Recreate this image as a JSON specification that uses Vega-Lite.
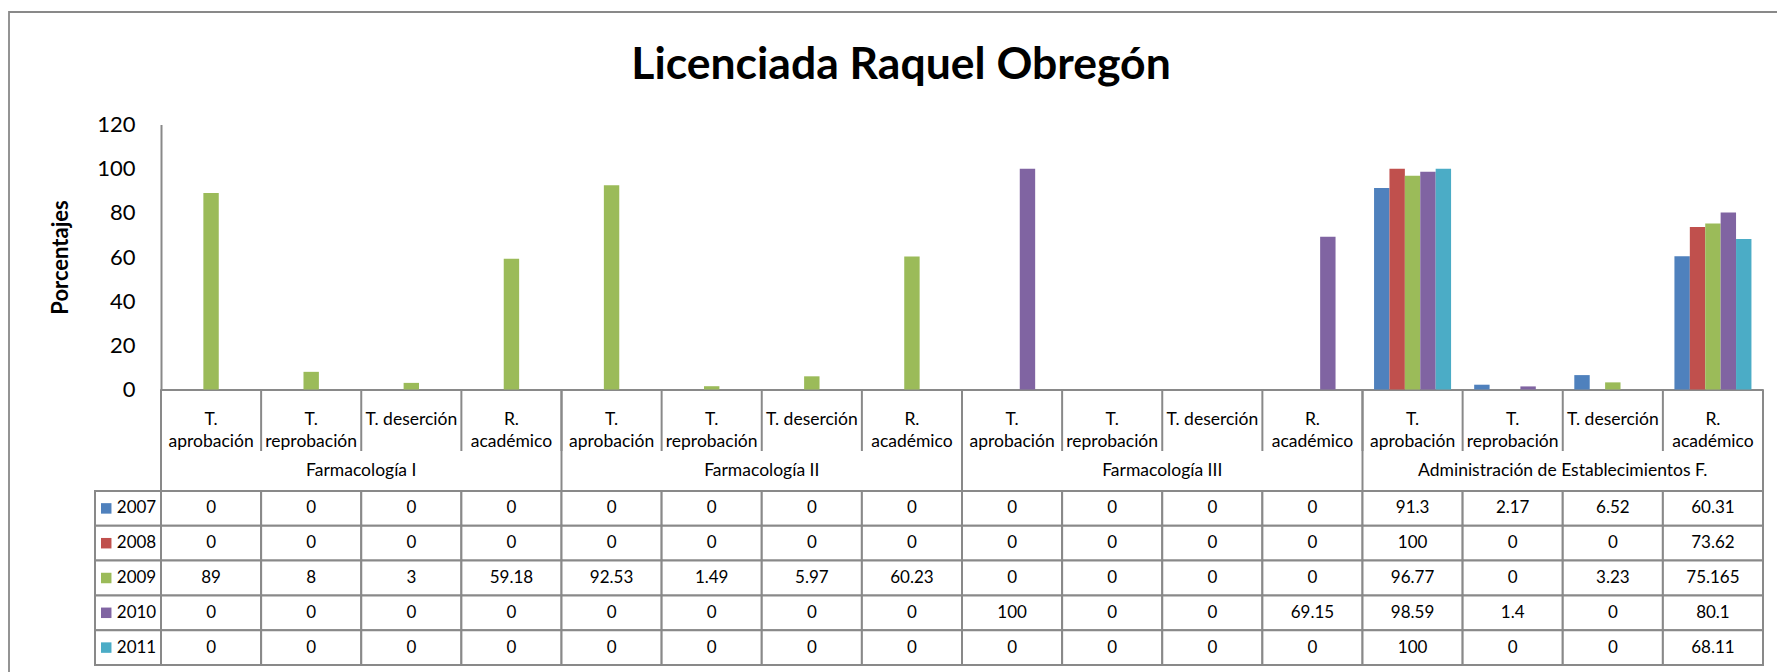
{
  "$schema": "https://vega.github.io/schema/vega-lite/v6.json",
  "autosize": {"type": "none"},
  "padding": {"left": 9, "top": 12, "right": 0, "bottom": 0},
  "width": 1768,
  "height": 660,
  "background": "white",
  "config": {
    "view": {"stroke": "#898989", "strokeWidth": 1.8, "strokeDash": [1768, 2428, 660]},
    "font": "Lato",
    "text": {"font": "Lato"}
  },
  "title": {
    "text": "Licenciada Raquel Obregón",
    "font": "Lato", "fontSize": 44.5, "fontWeight": "bold", "color": "#000000",
    "anchor": "middle", "frame": "group", "baseline": "alphabetic", "offset": -111, "dx": 8
  },
  "datasets": {
    "columnas": [
      {"col": "c01", "grupo": "Farmacología I", "medida": "T. aprobación", "lineas": ["T.", "aprobación"]},
      {"col": "c02", "grupo": "Farmacología I", "medida": "T. reprobación", "lineas": ["T.", "reprobación"]},
      {"col": "c03", "grupo": "Farmacología I", "medida": "T. deserción", "lineas": ["T. deserción"]},
      {"col": "c04", "grupo": "Farmacología I", "medida": "R. académico", "lineas": ["R.", "académico"]},
      {"col": "c05", "grupo": "Farmacología II", "medida": "T. aprobación", "lineas": ["T.", "aprobación"]},
      {"col": "c06", "grupo": "Farmacología II", "medida": "T. reprobación", "lineas": ["T.", "reprobación"]},
      {"col": "c07", "grupo": "Farmacología II", "medida": "T. deserción", "lineas": ["T. deserción"]},
      {"col": "c08", "grupo": "Farmacología II", "medida": "R. académico", "lineas": ["R.", "académico"]},
      {"col": "c09", "grupo": "Farmacología III", "medida": "T. aprobación", "lineas": ["T.", "aprobación"]},
      {"col": "c10", "grupo": "Farmacología III", "medida": "T. reprobación", "lineas": ["T.", "reprobación"]},
      {"col": "c11", "grupo": "Farmacología III", "medida": "T. deserción", "lineas": ["T. deserción"]},
      {"col": "c12", "grupo": "Farmacología III", "medida": "R. académico", "lineas": ["R.", "académico"]},
      {"col": "c13", "grupo": "Administración de Establecimientos F.", "medida": "T. aprobación", "lineas": ["T.", "aprobación"]},
      {"col": "c14", "grupo": "Administración de Establecimientos F.", "medida": "T. reprobación", "lineas": ["T.", "reprobación"]},
      {"col": "c15", "grupo": "Administración de Establecimientos F.", "medida": "T. deserción", "lineas": ["T. deserción"]},
      {"col": "c16", "grupo": "Administración de Establecimientos F.", "medida": "R. académico", "lineas": ["R.", "académico"]}
    ],
    "grupos": [
      {"grupo": "Farmacología I"},
      {"grupo": "Farmacología II"},
      {"grupo": "Farmacología III"},
      {"grupo": "Administración de Establecimientos F."}
    ],
    "anios": [{"anio": "2007"}, {"anio": "2008"}, {"anio": "2009"}, {"anio": "2010"}, {"anio": "2011"}],
    "tabla": [
      {"col": "c01", "anio": "2007", "valor": 0}, {"col": "c02", "anio": "2007", "valor": 0}, {"col": "c03", "anio": "2007", "valor": 0}, {"col": "c04", "anio": "2007", "valor": 0},
      {"col": "c05", "anio": "2007", "valor": 0}, {"col": "c06", "anio": "2007", "valor": 0}, {"col": "c07", "anio": "2007", "valor": 0}, {"col": "c08", "anio": "2007", "valor": 0},
      {"col": "c09", "anio": "2007", "valor": 0}, {"col": "c10", "anio": "2007", "valor": 0}, {"col": "c11", "anio": "2007", "valor": 0}, {"col": "c12", "anio": "2007", "valor": 0},
      {"col": "c13", "anio": "2007", "valor": 91.3}, {"col": "c14", "anio": "2007", "valor": 2.17}, {"col": "c15", "anio": "2007", "valor": 6.52}, {"col": "c16", "anio": "2007", "valor": 60.31},
      {"col": "c01", "anio": "2008", "valor": 0}, {"col": "c02", "anio": "2008", "valor": 0}, {"col": "c03", "anio": "2008", "valor": 0}, {"col": "c04", "anio": "2008", "valor": 0},
      {"col": "c05", "anio": "2008", "valor": 0}, {"col": "c06", "anio": "2008", "valor": 0}, {"col": "c07", "anio": "2008", "valor": 0}, {"col": "c08", "anio": "2008", "valor": 0},
      {"col": "c09", "anio": "2008", "valor": 0}, {"col": "c10", "anio": "2008", "valor": 0}, {"col": "c11", "anio": "2008", "valor": 0}, {"col": "c12", "anio": "2008", "valor": 0},
      {"col": "c13", "anio": "2008", "valor": 100}, {"col": "c14", "anio": "2008", "valor": 0}, {"col": "c15", "anio": "2008", "valor": 0}, {"col": "c16", "anio": "2008", "valor": 73.62},
      {"col": "c01", "anio": "2009", "valor": 89}, {"col": "c02", "anio": "2009", "valor": 8}, {"col": "c03", "anio": "2009", "valor": 3}, {"col": "c04", "anio": "2009", "valor": 59.18},
      {"col": "c05", "anio": "2009", "valor": 92.53}, {"col": "c06", "anio": "2009", "valor": 1.49}, {"col": "c07", "anio": "2009", "valor": 5.97}, {"col": "c08", "anio": "2009", "valor": 60.23},
      {"col": "c09", "anio": "2009", "valor": 0}, {"col": "c10", "anio": "2009", "valor": 0}, {"col": "c11", "anio": "2009", "valor": 0}, {"col": "c12", "anio": "2009", "valor": 0},
      {"col": "c13", "anio": "2009", "valor": 96.77}, {"col": "c14", "anio": "2009", "valor": 0}, {"col": "c15", "anio": "2009", "valor": 3.23}, {"col": "c16", "anio": "2009", "valor": 75.165},
      {"col": "c01", "anio": "2010", "valor": 0}, {"col": "c02", "anio": "2010", "valor": 0}, {"col": "c03", "anio": "2010", "valor": 0}, {"col": "c04", "anio": "2010", "valor": 0},
      {"col": "c05", "anio": "2010", "valor": 0}, {"col": "c06", "anio": "2010", "valor": 0}, {"col": "c07", "anio": "2010", "valor": 0}, {"col": "c08", "anio": "2010", "valor": 0},
      {"col": "c09", "anio": "2010", "valor": 100}, {"col": "c10", "anio": "2010", "valor": 0}, {"col": "c11", "anio": "2010", "valor": 0}, {"col": "c12", "anio": "2010", "valor": 69.15},
      {"col": "c13", "anio": "2010", "valor": 98.59}, {"col": "c14", "anio": "2010", "valor": 1.4}, {"col": "c15", "anio": "2010", "valor": 0}, {"col": "c16", "anio": "2010", "valor": 80.1},
      {"col": "c01", "anio": "2011", "valor": 0}, {"col": "c02", "anio": "2011", "valor": 0}, {"col": "c03", "anio": "2011", "valor": 0}, {"col": "c04", "anio": "2011", "valor": 0},
      {"col": "c05", "anio": "2011", "valor": 0}, {"col": "c06", "anio": "2011", "valor": 0}, {"col": "c07", "anio": "2011", "valor": 0}, {"col": "c08", "anio": "2011", "valor": 0},
      {"col": "c09", "anio": "2011", "valor": 0}, {"col": "c10", "anio": "2011", "valor": 0}, {"col": "c11", "anio": "2011", "valor": 0}, {"col": "c12", "anio": "2011", "valor": 0},
      {"col": "c13", "anio": "2011", "valor": 100}, {"col": "c14", "anio": "2011", "valor": 0}, {"col": "c15", "anio": "2011", "valor": 0}, {"col": "c16", "anio": "2011", "valor": 68.11}
    ]
  },
  "resolve": {"scale": {"x": "independent", "y": "independent"}, "axis": {"x": "independent", "y": "independent"}},
  "layer": [
    {
      "data": {"name": "tabla"},
      "mark": {"type": "rect", "fill": "white", "stroke": "#898989", "strokeWidth": 2},
      "encoding": {
        "x": {"field": "col", "type": "nominal", "axis": null,
          "scale": {"domain": ["c01","c02","c03","c04","c05","c06","c07","c08","c09","c10","c11","c12","c13","c14","c15","c16"], "range": [152, 1754], "paddingInner": 0, "paddingOuter": 0}},
        "y": {"field": "anio", "type": "nominal", "axis": null,
          "scale": {"domain": ["2007","2008","2009","2010","2011"], "range": [479, 653], "paddingInner": 0, "paddingOuter": 0}}
      }
    },
    {
      "data": {"name": "tabla"},
      "mark": {"type": "text", "fontSize": 17, "color": "#000000", "baseline": "middle", "align": "center"},
      "encoding": {
        "x": {"field": "col", "type": "nominal", "axis": null,
          "scale": {"domain": ["c01","c02","c03","c04","c05","c06","c07","c08","c09","c10","c11","c12","c13","c14","c15","c16"], "range": [152, 1754], "paddingInner": 0, "paddingOuter": 0}},
        "y": {"field": "anio", "type": "nominal", "axis": null,
          "scale": {"domain": ["2007","2008","2009","2010","2011"], "range": [479, 653], "paddingInner": 0, "paddingOuter": 0}},
        "text": {"field": "valor", "type": "nominal"}
      }
    },
    {
      "data": {"name": "anios"},
      "mark": {"type": "rect", "fill": "white", "stroke": "#898989", "strokeWidth": 2},
      "encoding": {
        "x": {"datum": 0, "type": "quantitative", "axis": null, "scale": {"domain": [0, 1], "range": [86, 152]}},
        "x2": {"datum": 1},
        "y": {"field": "anio", "type": "nominal", "axis": null,
          "scale": {"domain": ["2007","2008","2009","2010","2011"], "range": [479, 653], "paddingInner": 0, "paddingOuter": 0}}
      }
    },
    {
      "data": {"name": "anios"},
      "mark": {"type": "point", "shape": "square", "filled": true, "size": 110, "opacity": 1},
      "encoding": {
        "x": {"datum": 0.17, "type": "quantitative", "axis": null, "scale": {"domain": [0, 1], "range": [86, 152]}},
        "y": {"field": "anio", "type": "nominal", "axis": null,
          "scale": {"domain": ["2007","2008","2009","2010","2011"], "range": [479, 653], "paddingInner": 0, "paddingOuter": 0}},
        "color": {"field": "anio", "type": "nominal", "legend": null,
          "scale": {"domain": ["2007","2008","2009","2010","2011"], "range": ["#4F81BD","#C0504D","#9BBB59","#8064A2","#4BACC6"]}}
      }
    },
    {
      "data": {"name": "anios"},
      "mark": {"type": "text", "fontSize": 17, "color": "#000000", "baseline": "middle", "align": "left"},
      "encoding": {
        "x": {"datum": 0.33, "type": "quantitative", "axis": null, "scale": {"domain": [0, 1], "range": [86, 152]}},
        "y": {"field": "anio", "type": "nominal", "axis": null,
          "scale": {"domain": ["2007","2008","2009","2010","2011"], "range": [479, 653], "paddingInner": 0, "paddingOuter": 0}},
        "text": {"field": "anio", "type": "nominal"}
      }
    },
    {
      "data": {"name": "columnas"},
      "mark": {"type": "text", "fontSize": 17.5, "color": "#000000", "baseline": "middle", "align": "center", "lineHeight": 22},
      "encoding": {
        "x": {"field": "col", "type": "nominal", "axis": null,
          "scale": {"domain": ["c01","c02","c03","c04","c05","c06","c07","c08","c09","c10","c11","c12","c13","c14","c15","c16"], "range": [152, 1754], "paddingInner": 0, "paddingOuter": 0}},
        "y": {"datum": 0.5, "type": "quantitative", "axis": null, "scale": {"domain": [0, 1], "range": [377.5, 439]}},
        "text": {"field": "lineas"}
      }
    },
    {
      "data": {"name": "columnas"},
      "mark": {"type": "rule", "color": "#898989", "strokeWidth": 2},
      "encoding": {
        "x": {"field": "col", "type": "nominal", "bandPosition": 0, "axis": null,
          "scale": {"domain": ["c01","c02","c03","c04","c05","c06","c07","c08","c09","c10","c11","c12","c13","c14","c15","c16"], "range": [152, 1754], "paddingInner": 0, "paddingOuter": 0}},
        "y": {"datum": 0, "type": "quantitative", "axis": null, "scale": {"domain": [0, 1], "range": [377.5, 439]}},
        "y2": {"datum": 1}
      }
    },
    {
      "data": {"name": "grupos"},
      "mark": {"type": "text", "fontSize": 17.5, "color": "#000000", "baseline": "middle", "align": "center"},
      "encoding": {
        "x": {"field": "grupo", "type": "nominal", "axis": null,
          "scale": {"domain": ["Farmacología I","Farmacología II","Farmacología III","Administración de Establecimientos F."], "range": [152, 1754], "paddingInner": 0, "paddingOuter": 0}},
        "y": {"datum": 0.5, "type": "quantitative", "axis": null, "scale": {"domain": [0, 1], "range": [439, 479]}},
        "text": {"field": "grupo", "type": "nominal"}
      }
    },
    {
      "data": {"name": "grupos"},
      "mark": {"type": "rule", "color": "#898989", "strokeWidth": 2},
      "encoding": {
        "x": {"field": "grupo", "type": "nominal", "bandPosition": 0, "axis": null,
          "scale": {"domain": ["Farmacología I","Farmacología II","Farmacología III","Administración de Establecimientos F."], "range": [152, 1754], "paddingInner": 0, "paddingOuter": 0}},
        "y": {"datum": 0, "type": "quantitative", "axis": null, "scale": {"domain": [0, 1], "range": [377.5, 479]}},
        "y2": {"datum": 1}
      }
    },
    {
      "data": {"name": "grupos"},
      "transform": [{"filter": "datum.grupo === 'Administración de Establecimientos F.'"}],
      "mark": {"type": "rule", "color": "#898989", "strokeWidth": 2},
      "encoding": {
        "x": {"field": "grupo", "type": "nominal", "bandPosition": 1, "axis": null,
          "scale": {"domain": ["Farmacología I","Farmacología II","Farmacología III","Administración de Establecimientos F."], "range": [152, 1754], "paddingInner": 0, "paddingOuter": 0}},
        "y": {"datum": 0, "type": "quantitative", "axis": null, "scale": {"domain": [0, 1], "range": [377.5, 479]}},
        "y2": {"datum": 1}
      }
    },
    {
      "data": {"name": "tabla"},
      "transform": [{"filter": "datum.valor > 0"}],
      "mark": {"type": "bar"},
      "encoding": {
        "x": {"field": "col", "type": "nominal",
          "scale": {"domain": ["c01","c02","c03","c04","c05","c06","c07","c08","c09","c10","c11","c12","c13","c14","c15","c16"], "range": [152, 1754], "paddingInner": 0, "paddingOuter": 0},
          "axis": {"orient": "bottom", "offset": -282.5, "labels": false, "ticks": false, "domain": true, "domainColor": "#898989", "domainWidth": 2, "title": null, "grid": false}},
        "xOffset": {"field": "anio", "type": "nominal",
          "scale": {"domain": ["2007","2008","2009","2010","2011"], "paddingInner": 0, "paddingOuter": 0.75}},
        "y": {"field": "valor", "type": "quantitative",
          "scale": {"domain": [0, 120], "range": [377.5, 112.5], "nice": false, "zero": true},
          "axis": {"orient": "left", "offset": -152, "values": [0, 20, 40, 60, 80, 100, 120], "grid": false, "ticks": false, "tickSize": 0,
            "labelPadding": 26, "labelFont": "Lato", "labelFontSize": 22, "labelColor": "#000000",
            "domain": true, "domainColor": "#898989", "domainWidth": 2,
            "title": "Porcentajes", "titleFont": "Lato", "titleFontSize": 22, "titleFontWeight": "bold", "titleColor": "#000000",
            "titleX": -101, "titleY": 245, "titleAngle": -90, "titleAlign": "center", "titleBaseline": "middle"}},
        "color": {"field": "anio", "type": "nominal", "legend": null,
          "scale": {"domain": ["2007","2008","2009","2010","2011"], "range": ["#4F81BD","#C0504D","#9BBB59","#8064A2","#4BACC6"]}}
      }
    }
  ]
}
